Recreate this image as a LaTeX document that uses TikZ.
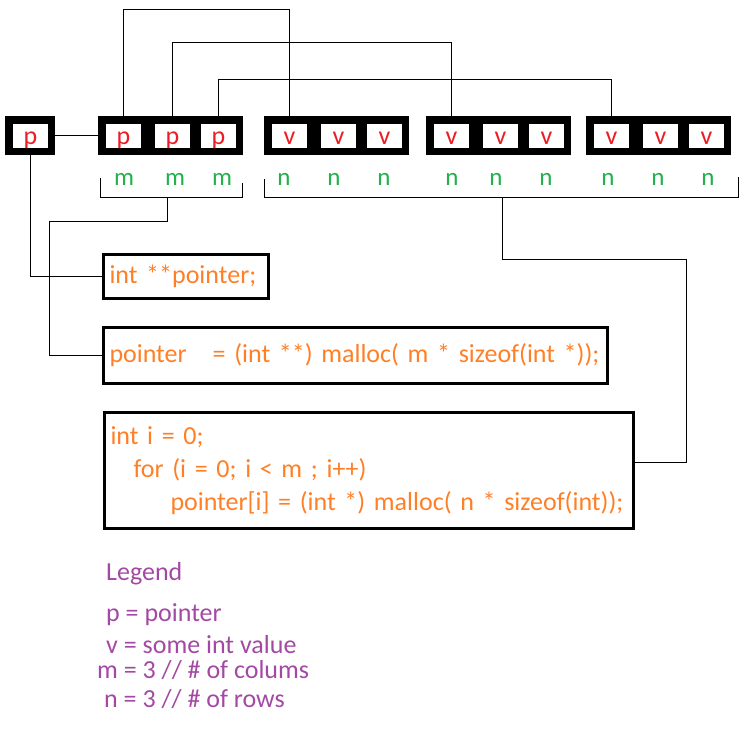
\documentclass[tikz,border=0pt]{standalone}
\usepackage{fontspec}
\setmainfont{Carlito}
\usepackage{xcolor}
\usepackage{tikz}
\usetikzlibrary{positioning, calc}
\definecolor{paintred}{RGB}{237,28,36}
\definecolor{paintgreen}{RGB}{34,177,76}
\definecolor{paintorange}{RGB}{255,127,39}
\definecolor{paintpurple}{RGB}{163,73,164}

\begin{document}
\begin{tikzpicture}[x=1pt, y=-1pt]
\tikzstyle{block} = [rectangle, fill=black, minimum width=145pt, minimum height=39pt, inner sep=0pt]
\tikzstyle{memcell} = [rectangle, fill=white, minimum width=35pt, minimum height=24pt, inner sep=0pt, text height=16pt, text depth=0pt, text=paintred, font=\fontsize{26pt}{30pt}\selectfont]
\tikzstyle{idx} = [anchor=base, inner sep=0pt, text=paintgreen, font=\fontsize{25pt}{30pt}\selectfont]
\tikzstyle{codebox} = [rectangle, draw=black, line width=3pt, inner xsep=6pt, inner ysep=0pt, align=left, text=paintorange, font=\fontsize{26pt}{33pt}\selectfont]
\tikzstyle{legendtext} = [anchor=base west, inner sep=0pt, text=paintpurple, font=\fontsize{26pt}{30pt}\selectfont]
\tikzstyle{wire} = [line width=1pt, black]

\useasboundingbox (0,0) rectangle (746,734);

% pointer and the m pointers
\node[block, minimum width=50pt] (parr) at (30,135.5) {};
\node[memcell] (p0) at (30.5,136) {p};
\node[block] (marr) at (170.5,135.5) {};
\node[memcell] (pm1) at (123.5,136) {p};
\node[memcell] (pm2) at (172.5,136) {p};
\node[memcell] (pm3) at (218.5,136) {p};

% the rows of values
\node[block] (varr1) at (336.5,135.5) {};
\node[memcell] (va1) at (289.5,136) {v};
\node[memcell] (va2) at (338.5,136) {v};
\node[memcell] (va3) at (384.5,136) {v};
\node[block] (varr2) at (498.5,135.5) {};
\node[memcell] (vb1) at (451.5,136) {v};
\node[memcell] (vb2) at (500.5,136) {v};
\node[memcell] (vb3) at (546.5,136) {v};
\node[block] (varr3) at (658.5,135.5) {};
\node[memcell] (vc1) at (611.5,136) {v};
\node[memcell] (vc2) at (660.5,136) {v};
\node[memcell] (vc3) at (706.5,136) {v};

% sizes under the arrays
\node[idx] (m1) at (124,185) {m};
\node[idx] (m2) at (175,185) {m};
\node[idx] (m3) at (222,185) {m};
\node[idx] (n1) at (284,185) {n};
\node[idx] (n2) at (334,185) {n};
\node[idx] (n3) at (384,185) {n};
\node[idx] (n4) at (452,185) {n};
\node[idx] (n5) at (496,185) {n};
\node[idx] (n6) at (546,185) {n};
\node[idx] (n7) at (608,185) {n};
\node[idx] (n8) at (658,185) {n};
\node[idx] (n9) at (708,185) {n};

% code
\node[codebox, text width=153pt, minimum height=44pt, text height=20pt, text depth=6pt] (decl) at (186,276.5) {int **pointer;};
\node[codebox, text width=492pt, minimum height=56pt, text height=20pt, text depth=6pt] (alloc) at (355.5,355.5) {pointer\ \ \ = (int **) malloc( m * sizeof(int *));};
\node[codebox, text width=517pt, minimum height=116pt] (loop) at (369,470.5) {int i = 0;\\
\hspace*{23pt}for (i = 0; i < m ; i++)\\
\hspace*{60pt}\mbox{pointer[i] = (int *) malloc(\ n\ * sizeof(int));}};

% legend
\node[legendtext] (leg) at (106,580) {Legend};
\node[legendtext] (legp) at (106,621) {p = pointer};
\node[legendtext] (legv) at (106,653) {v = some int value};
\node[legendtext] (legm) at (97,678) {m = 3 // \# of colums};
\node[legendtext] (legn) at (104,707) {n = 3 // \# of rows};

% braces under m and n
\coordinate (mbrace) at (167,197);
\coordinate (nbrace) at (502,197);
\draw[wire] (100,178) |- (242,197) -- (242,183);
\draw[wire] (264,179) |- (738,197) -- (738,177);

% connectors
\draw[wire] (parr.east) -- (marr.west);
\draw[wire] (pm1.north) -- (pm1.north |- 0,9) -| (va1.north);
\draw[wire] (pm2.north) -- (pm2.north |- 0,42) -| (vb1.north);
\draw[wire] (pm3.north) -- (pm3.north |- 0,79) -| (vc1.north);
\draw[wire] (p0.south) |- (decl.west);
\draw[wire] (mbrace) |- (49,221) |- (alloc.west);
\draw[wire] (nbrace) |- (686,259) |- ([yshift=8.5pt]loop.east);
\end{tikzpicture}
\end{document}
